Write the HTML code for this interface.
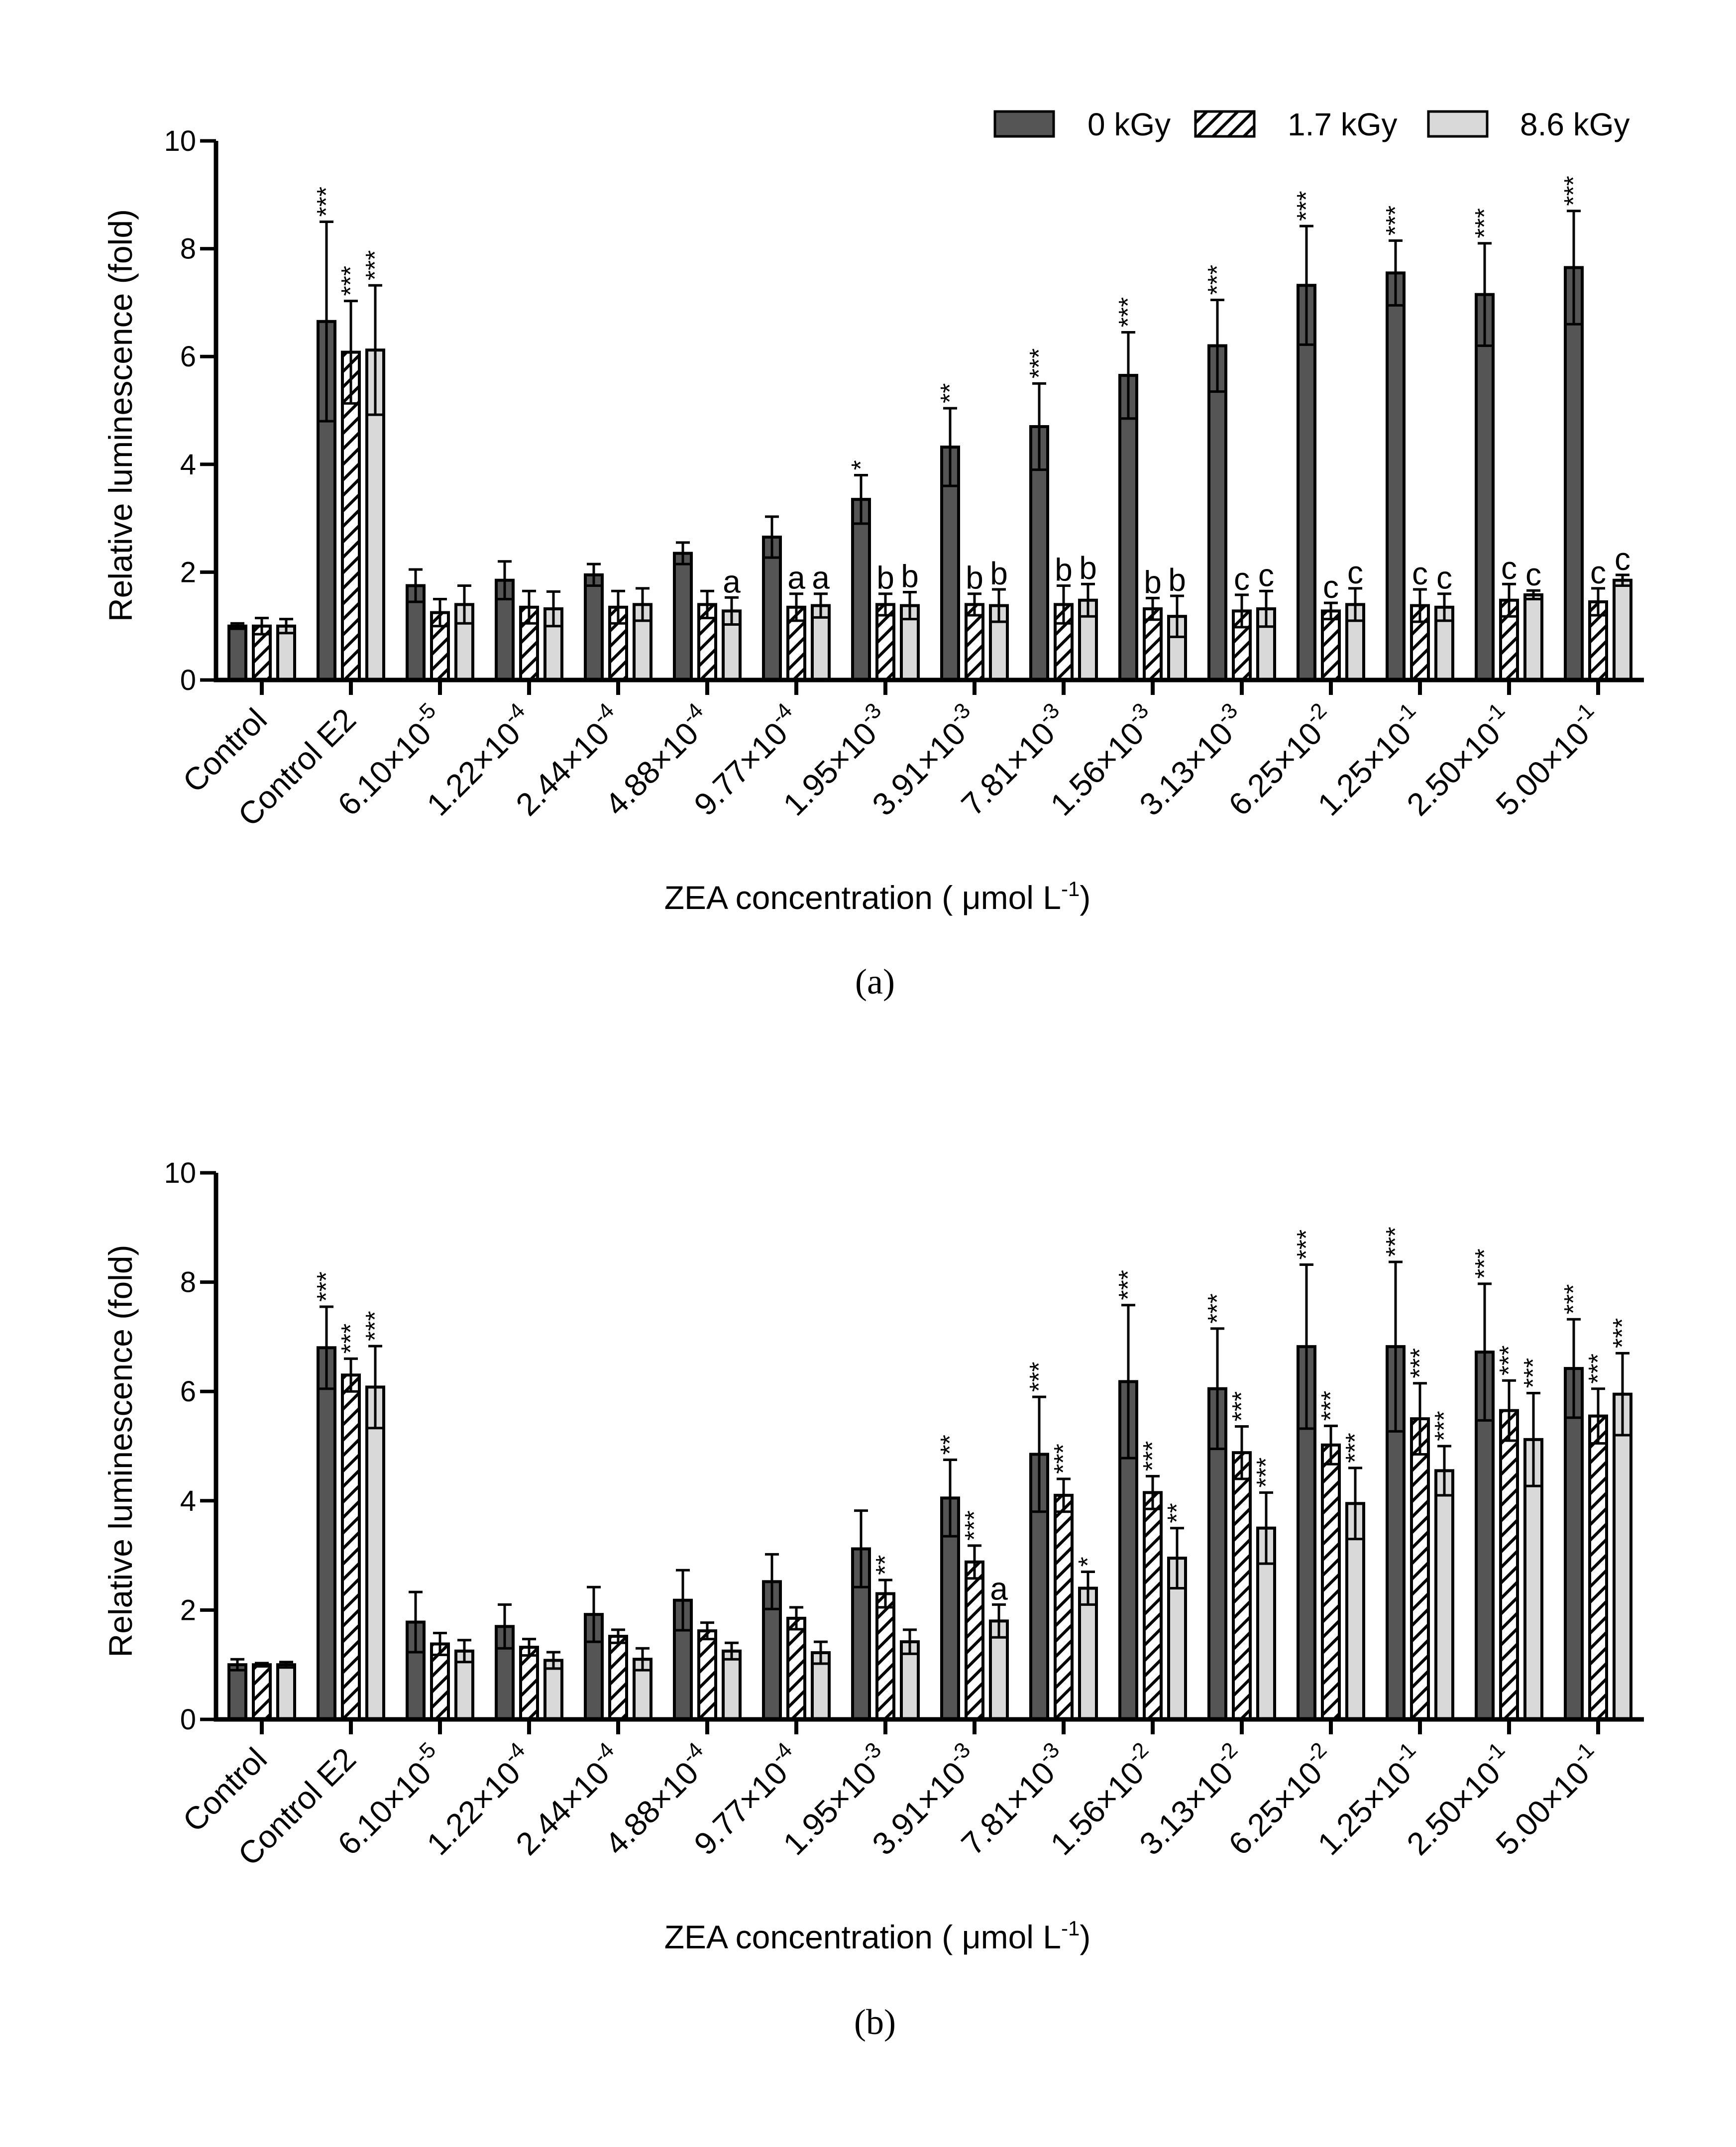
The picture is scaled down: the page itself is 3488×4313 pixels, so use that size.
<!DOCTYPE html>
<html><head><meta charset="utf-8"><style>html,body{margin:0;padding:0;background:#fff}svg{display:block}</style></head>
<body>
<svg id="fig" xmlns="http://www.w3.org/2000/svg" width="3488" height="4313" viewBox="0 0 3488 4313">
<defs>
<pattern id="hatch" patternUnits="userSpaceOnUse" width="22" height="22" patternTransform="rotate(45)">
<rect width="22" height="22" fill="#fff"/><rect x="0" y="0" width="6" height="22" fill="#000"/>
</pattern>
</defs>
<rect width="3488" height="4313" fill="#fff"/>
</svg>
<script>
const categories = ["Control","Control E2","6.10×10|-5","1.22×10|-4","2.44×10|-4","4.88×10|-4","9.77×10|-4","1.95×10|-3","3.91×10|-3","7.81×10|-3","1.56×10|-3","3.13×10|-3","6.25×10|-2","1.25×10|-1","2.50×10|-1","5.00×10|-1"];
const categoriesB = ["Control","Control E2","6.10×10|-5","1.22×10|-4","2.44×10|-4","4.88×10|-4","9.77×10|-4","1.95×10|-3","3.91×10|-3","7.81×10|-3","1.56×10|-2","3.13×10|-2","6.25×10|-2","1.25×10|-1","2.50×10|-1","5.00×10|-1"];
const seriesNames = ["0 kGy","1.7 kGy","8.6 kGy"];
const yTicks = [0,2,4,6,8,10];
// Panel (a)
const a0 = [1.0,6.65,1.75,1.85,1.95,2.35,2.65,3.35,4.32,4.7,5.65,6.2,7.32,7.55,7.15,7.65];
const a0err = [0.05,1.85,0.3,0.35,0.2,0.2,0.38,0.45,0.72,0.8,0.8,0.85,1.1,0.6,0.95,1.05];
const a1 = [1.0,6.08,1.25,1.35,1.35,1.4,1.35,1.4,1.4,1.4,1.32,1.28,1.28,1.38,1.48,1.45];
const a1err = [0.15,0.95,0.25,0.3,0.3,0.25,0.25,0.2,0.2,0.35,0.2,0.3,0.15,0.3,0.3,0.25];
const a2 = [1.0,6.12,1.4,1.32,1.4,1.28,1.38,1.38,1.38,1.48,1.18,1.32,1.4,1.35,1.58,1.85];
const a2err = [0.13,1.2,0.35,0.32,0.3,0.25,0.22,0.25,0.3,0.3,0.38,0.33,0.3,0.25,0.08,0.1];
const a0lab = ["","***","","","","","","*","**","***","***","***","***","***","***","***"];
const a1lab = ["","***","","","","","a","b","b","b","b","c","c","c","c","c"];
const a2lab = ["","***","","","","a","a","b","b","b","b","c","c","c","c","c"];
// Panel (b)
const b0 = [1.0,6.8,1.78,1.7,1.92,2.18,2.52,3.12,4.05,4.85,6.18,6.05,6.82,6.82,6.72,6.42];
const b0err = [0.1,0.75,0.55,0.4,0.5,0.55,0.5,0.7,0.7,1.05,1.4,1.1,1.5,1.55,1.25,0.9];
const b1 = [1.0,6.3,1.38,1.32,1.52,1.62,1.85,2.3,2.88,4.1,4.15,4.88,5.02,5.5,5.65,5.55];
const b1err = [0.03,0.3,0.2,0.15,0.12,0.15,0.2,0.25,0.3,0.3,0.3,0.48,0.35,0.65,0.55,0.5];
const b2 = [1.0,6.08,1.25,1.08,1.1,1.25,1.22,1.42,1.8,2.4,2.95,3.5,3.95,4.55,5.12,5.95];
const b2err = [0.05,0.75,0.2,0.15,0.2,0.15,0.2,0.22,0.3,0.3,0.55,0.65,0.65,0.45,0.85,0.75];
const b0lab = ["","***","","","","","","","**","***","***","***","***","***","***","***"];
const b1lab = ["","***","","","","","","**","***","***","***","***","***","***","***","***"];
const b2lab = ["","***","","","","","","","a","*","**","***","***","***","***","***"];

const NS = "http://www.w3.org/2000/svg";
const svg = document.getElementById('fig');
function mk(tag, attrs, parent){
  const e = document.createElementNS(NS, tag);
  for (const k in attrs) e.setAttribute(k, attrs[k]);
  (parent||svg).appendChild(e);
  return e;
}
const SANS = '"Liberation Sans", sans-serif';
const fills = ["#555555","url(#hatch)","#d9d9d9"];

function panel(id, y0, y10, cats, vals, errs, labs, withLegend, tag, tagY){
  const g = mk('g', {});
  
  
  const axX = 434, axEnd = 3303;
  const y = v => y0 - (y0 - y10) * v / 10;
  const gx = i => 526 + i * 179;
  const offs = [-49, 0, 49];
  const bw = 34;
  for (let s = 0; s < 3; s++) {
    for (let i = 0; i < cats.length; i++) {
      const cx = gx(i) + offs[s];
      const v = vals[s][i], e = errs[s][i];
      const r = mk('rect', {x: cx - bw/2, y: y(v), width: bw, height: y0 - y(v), fill: fills[s], stroke: '#000', 'stroke-width': 6}, g);
      
      
      const eb = mk('path', {d: `M${cx},${y(v+e)}V${y(v-e)}M${cx-14},${y(v+e)}H${cx+14}M${cx-14},${y(v-e)}H${cx+14}`, stroke: '#000', 'stroke-width': 5, fill: 'none'}, g);
      
      
      const L = labs[s][i];
      if (L) {
        const ty = y(v + e) - 10;
        if (L.indexOf('*') >= 0) {
          const t = mk('text', {x: cx, y: ty, 'font-family': SANS, 'font-size': 52, fill: '#000', 'text-anchor': 'start', 'dominant-baseline': 'central', transform: `rotate(-90 ${cx} ${ty})`}, g);
          t.textContent = L;
          
          
        } else {
          const t = mk('text', {x: cx, y: ty, 'font-family': SANS, 'font-size': 64, fill: '#000', 'text-anchor': 'middle'}, g);
          t.textContent = L;
          
          
        }
      }
    }
  }
  const ax = mk('path', {d: `M${axX},${y10}V${y0}H${axEnd}`, stroke: '#000', 'stroke-width': 9, fill: 'none'}, g);
  
  
  yTicks.forEach(t => {
    mk('path', {d: `M${axX-32},${y(t)}H${axX}`, stroke: '#000', 'stroke-width': 7}, g);
    const tl = mk('text', {x: axX - 40, y: y(t) + 20, 'font-family': SANS, 'font-size': 58, 'text-anchor': 'end', fill: '#000'}, g);
    tl.textContent = t;
    
    
  });
  cats.forEach((c, i) => {
    mk('path', {d: `M${gx(i)},${y0}V${y0+30}`, stroke: '#000', 'stroke-width': 8}, g);
    const ex = gx(i) + 14, ey = y0 + 84;
    const t = mk('text', {x: ex, y: ey, 'font-family': SANS, 'font-size': 64, 'text-anchor': 'end', fill: '#000', transform: `rotate(-45 ${ex} ${ey})`}, g);
    const parts = c.split('|');
    const t1 = mk('tspan', {}, t); t1.textContent = parts[0];
    if (parts[1]) { const t2 = mk('tspan', {dy: -28, 'font-size': 44}, t); t2.textContent = parts[1]; }
    
    
  });
  const cy = (y0 + y10) / 2 + 10;
  const yt = mk('text', {x: 242, y: cy, 'font-family': SANS, 'font-size': 66, 'text-anchor': 'middle', 'dominant-baseline': 'central', fill: '#000', transform: `rotate(-90 242 ${cy})`}, g);
  yt.textContent = 'Relative luminescence (fold)';
  
  
  const xt = mk('text', {x: 1763, y: y0 + 460, 'font-family': SANS, 'font-size': 66, 'text-anchor': 'middle', fill: '#000'}, g);
  xt.innerHTML = 'ZEA concentration ( μmol L<tspan dy="-26" font-size="42">-1</tspan><tspan dy="26">)</tspan>';
  
  
  const pt = mk('text', {x: 1758, y: tagY, 'font-family': '"Liberation Serif", serif', 'font-size': 72, 'text-anchor': 'middle', fill: '#000'}, g);
  pt.textContent = tag;
  
  
  if (withLegend) {
    const bx = [1999, 2402, 2870], tx = [2185, 2587, 3054];
    for (let s = 0; s < 3; s++) {
      const lg = mk('g', {}, g);
      
      
      mk('rect', {x: bx[s], y: 224, width: 118, height: 50, fill: fills[s], stroke: '#000', 'stroke-width': 5}, lg);
      const lt = mk('text', {x: tx[s], y: 272, 'font-family': SANS, 'font-size': 64, fill: '#000'}, lg);
      lt.textContent = seriesNames[s];
    }
  }
}
panel('a', 1366, 283, categories, [a0,a1,a2], [a0err,a1err,a2err], [a0lab,a1lab,a2lab], true, '(a)', 1996);
panel('b', 3454, 2356, categoriesB, [b0,b1,b2], [b0err,b1err,b2err], [b0lab,b1lab,b2lab], false, '(b)', 4086);
</script>
</body></html>
